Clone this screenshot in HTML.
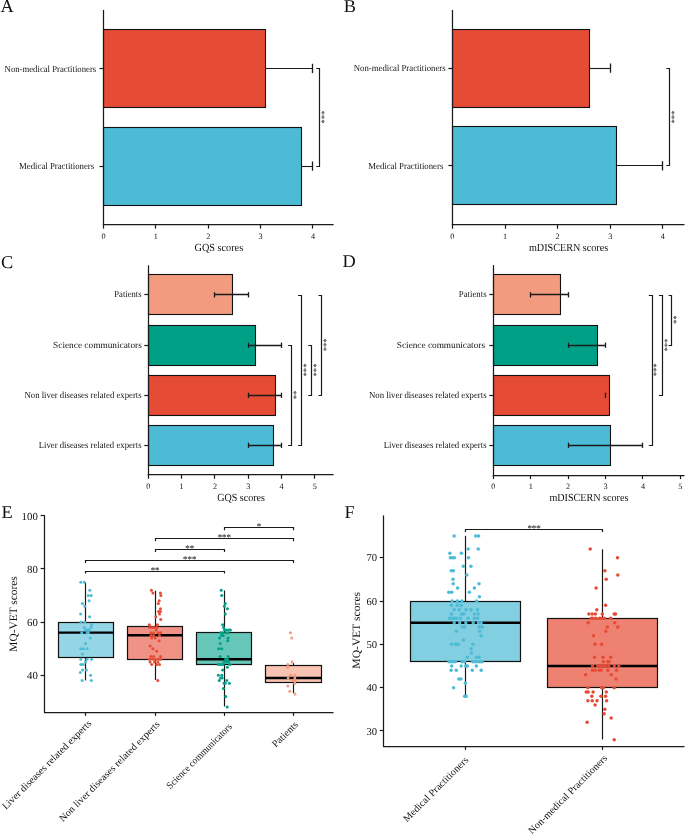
<!DOCTYPE html>
<html><head><meta charset="utf-8"><style>
html,body{margin:0;padding:0;background:#fff;}
text.st{stroke:#333;stroke-width:0.12px;fill:#333;}
svg{display:block;will-change:transform;text-rendering:geometricPrecision;font-family:"Liberation Serif",serif;fill:#111;}
</style></head><body>
<svg width="685" height="834" viewBox="0 0 685 834">
<rect width="685" height="834" fill="#fff"/>
<text font-size="18.0" transform="translate(0.4,11.9) scale(1.02,1)">A</text>
<text font-size="18.0" transform="translate(343.7,12.3) scale(1.02,1)">B</text>
<text font-size="18.0" transform="translate(0.9,267.6) scale(1.02,1)">C</text>
<text font-size="18.0" transform="translate(342.6,267.2) scale(1.02,1)">D</text>
<text font-size="18.0" transform="translate(1.5,518.0) scale(1.02,1)">E</text>
<text font-size="18.0" transform="translate(344.4,518.1) scale(1.02,1)">F</text>
<rect x="103.50" y="29.50" width="162.00" height="78.00" fill="#E64B35" stroke="#111" stroke-width="1.1"/>
<line x1="265.32" y1="68.50" x2="312.98" y2="68.50" stroke="#1a1a1a" stroke-width="1.1"/>
<line x1="312.50" y1="63.75" x2="312.50" y2="73.05" stroke="#1a1a1a" stroke-width="1.3"/>
<rect x="103.50" y="127.50" width="198.00" height="78.00" fill="#4DBBD5" stroke="#111" stroke-width="1.1"/>
<line x1="301.46" y1="166.50" x2="312.98" y2="166.50" stroke="#1a1a1a" stroke-width="1.1"/>
<line x1="312.50" y1="161.45" x2="312.50" y2="170.75" stroke="#1a1a1a" stroke-width="1.3"/>
<line x1="103.50" y1="9.90" x2="103.50" y2="225.20" stroke="#1a1a1a" stroke-width="1.25"/>
<line x1="102.90" y1="224.50" x2="333.60" y2="224.50" stroke="#1a1a1a" stroke-width="1.25"/>
<line x1="103.50" y1="224.60" x2="103.50" y2="228.60" stroke="#1a1a1a" stroke-width="1.2"/>
<text x="103.50" y="238.60" font-size="8.2" text-anchor="middle">0</text>
<line x1="155.50" y1="224.60" x2="155.50" y2="228.60" stroke="#1a1a1a" stroke-width="1.2"/>
<text x="155.87" y="238.60" font-size="8.2" text-anchor="middle">1</text>
<line x1="208.50" y1="224.60" x2="208.50" y2="228.60" stroke="#1a1a1a" stroke-width="1.2"/>
<text x="208.24" y="238.60" font-size="8.2" text-anchor="middle">2</text>
<line x1="260.50" y1="224.60" x2="260.50" y2="228.60" stroke="#1a1a1a" stroke-width="1.2"/>
<text x="260.61" y="238.60" font-size="8.2" text-anchor="middle">3</text>
<line x1="312.50" y1="224.60" x2="312.50" y2="228.60" stroke="#1a1a1a" stroke-width="1.2"/>
<text x="312.98" y="238.60" font-size="8.2" text-anchor="middle">4</text>
<line x1="99.50" y1="68.50" x2="103.50" y2="68.50" stroke="#1a1a1a" stroke-width="1.2"/>
<text x="96.20" y="71.50" font-size="9.3" text-anchor="end" textLength="91.60" lengthAdjust="spacingAndGlyphs">Non-medical Practitioners</text>
<line x1="99.50" y1="166.50" x2="103.50" y2="166.50" stroke="#1a1a1a" stroke-width="1.2"/>
<text x="94.20" y="169.20" font-size="9.3" text-anchor="end" textLength="75.20" lengthAdjust="spacingAndGlyphs">Medical Practitioners</text>
<text x="218.85" y="250.50" font-size="10.9" text-anchor="middle" textLength="48.60" lengthAdjust="spacingAndGlyphs">GQS scores</text>
<path d="M316.20,68.50 H319.50 V166.50 H316.20" stroke="#1a1a1a" stroke-width="1.2" fill="none"/>
<text font-size="8.6" text-anchor="middle" transform="translate(326.80,117.20) rotate(-90)">***</text>
<rect x="452.50" y="29.50" width="137.00" height="78.00" fill="#E64B35" stroke="#111" stroke-width="1.1"/>
<line x1="589.69" y1="68.50" x2="610.20" y2="68.50" stroke="#1a1a1a" stroke-width="1.1"/>
<line x1="610.50" y1="63.45" x2="610.50" y2="72.75" stroke="#1a1a1a" stroke-width="1.3"/>
<rect x="452.50" y="126.50" width="164.00" height="78.00" fill="#4DBBD5" stroke="#111" stroke-width="1.1"/>
<line x1="616.51" y1="165.50" x2="662.80" y2="165.50" stroke="#1a1a1a" stroke-width="1.1"/>
<line x1="662.50" y1="161.15" x2="662.50" y2="170.45" stroke="#1a1a1a" stroke-width="1.3"/>
<line x1="452.50" y1="9.90" x2="452.50" y2="225.40" stroke="#1a1a1a" stroke-width="1.25"/>
<line x1="451.80" y1="224.50" x2="684.50" y2="224.50" stroke="#1a1a1a" stroke-width="1.25"/>
<line x1="452.50" y1="224.80" x2="452.50" y2="228.80" stroke="#1a1a1a" stroke-width="1.2"/>
<text x="452.40" y="238.80" font-size="8.2" text-anchor="middle">0</text>
<line x1="505.50" y1="224.80" x2="505.50" y2="228.80" stroke="#1a1a1a" stroke-width="1.2"/>
<text x="505.00" y="238.80" font-size="8.2" text-anchor="middle">1</text>
<line x1="557.50" y1="224.80" x2="557.50" y2="228.80" stroke="#1a1a1a" stroke-width="1.2"/>
<text x="557.60" y="238.80" font-size="8.2" text-anchor="middle">2</text>
<line x1="610.50" y1="224.80" x2="610.50" y2="228.80" stroke="#1a1a1a" stroke-width="1.2"/>
<text x="610.20" y="238.80" font-size="8.2" text-anchor="middle">3</text>
<line x1="662.50" y1="224.80" x2="662.50" y2="228.80" stroke="#1a1a1a" stroke-width="1.2"/>
<text x="662.80" y="238.80" font-size="8.2" text-anchor="middle">4</text>
<line x1="448.40" y1="68.50" x2="452.40" y2="68.50" stroke="#1a1a1a" stroke-width="1.2"/>
<text x="445.60" y="71.20" font-size="9.3" text-anchor="end" textLength="91.80" lengthAdjust="spacingAndGlyphs">Non-medical Practitioners</text>
<line x1="448.40" y1="165.50" x2="452.40" y2="165.50" stroke="#1a1a1a" stroke-width="1.2"/>
<text x="443.30" y="168.90" font-size="9.3" text-anchor="end" textLength="75.00" lengthAdjust="spacingAndGlyphs">Medical Practitioners</text>
<text x="568.55" y="250.70" font-size="10.9" text-anchor="middle" textLength="79.20" lengthAdjust="spacingAndGlyphs">mDISCERN scores</text>
<path d="M666.30,68.50 H669.50 V165.50 H666.30" stroke="#1a1a1a" stroke-width="1.2" fill="none"/>
<text font-size="8.6" text-anchor="middle" transform="translate(676.90,117.10) rotate(-90)">***</text>
<rect x="148.50" y="274.50" width="84.00" height="40.00" fill="#F39B7F" stroke="#111" stroke-width="1.1"/>
<line x1="214.94" y1="294.50" x2="248.26" y2="294.50" stroke="#1a1a1a" stroke-width="1.4"/>
<line x1="214.50" y1="292.15" x2="214.50" y2="297.45" stroke="#1a1a1a" stroke-width="1.3"/>
<line x1="248.50" y1="292.15" x2="248.50" y2="297.45" stroke="#1a1a1a" stroke-width="1.3"/>
<rect x="148.50" y="325.50" width="107.00" height="40.00" fill="#00A087" stroke="#111" stroke-width="1.1"/>
<line x1="248.26" y1="345.50" x2="281.58" y2="345.50" stroke="#1a1a1a" stroke-width="1.4"/>
<line x1="248.50" y1="342.60" x2="248.50" y2="347.90" stroke="#1a1a1a" stroke-width="1.3"/>
<line x1="281.50" y1="342.60" x2="281.50" y2="347.90" stroke="#1a1a1a" stroke-width="1.3"/>
<rect x="148.50" y="375.50" width="127.00" height="40.00" fill="#E64B35" stroke="#111" stroke-width="1.1"/>
<line x1="248.26" y1="395.50" x2="281.58" y2="395.50" stroke="#1a1a1a" stroke-width="1.4"/>
<line x1="248.50" y1="392.65" x2="248.50" y2="397.95" stroke="#1a1a1a" stroke-width="1.3"/>
<line x1="281.50" y1="392.65" x2="281.50" y2="397.95" stroke="#1a1a1a" stroke-width="1.3"/>
<rect x="148.50" y="425.50" width="125.00" height="40.00" fill="#4DBBD5" stroke="#111" stroke-width="1.1"/>
<line x1="248.26" y1="445.50" x2="281.58" y2="445.50" stroke="#1a1a1a" stroke-width="1.4"/>
<line x1="248.50" y1="442.65" x2="248.50" y2="447.95" stroke="#1a1a1a" stroke-width="1.3"/>
<line x1="281.50" y1="442.65" x2="281.50" y2="447.95" stroke="#1a1a1a" stroke-width="1.3"/>
<line x1="148.50" y1="265.30" x2="148.50" y2="475.40" stroke="#1a1a1a" stroke-width="1.25"/>
<line x1="147.70" y1="474.50" x2="333.60" y2="474.50" stroke="#1a1a1a" stroke-width="1.25"/>
<line x1="148.50" y1="474.80" x2="148.50" y2="478.80" stroke="#1a1a1a" stroke-width="1.2"/>
<text x="148.30" y="488.80" font-size="8.2" text-anchor="middle">0</text>
<line x1="181.50" y1="474.80" x2="181.50" y2="478.80" stroke="#1a1a1a" stroke-width="1.2"/>
<text x="181.62" y="488.80" font-size="8.2" text-anchor="middle">1</text>
<line x1="214.50" y1="474.80" x2="214.50" y2="478.80" stroke="#1a1a1a" stroke-width="1.2"/>
<text x="214.94" y="488.80" font-size="8.2" text-anchor="middle">2</text>
<line x1="248.50" y1="474.80" x2="248.50" y2="478.80" stroke="#1a1a1a" stroke-width="1.2"/>
<text x="248.26" y="488.80" font-size="8.2" text-anchor="middle">3</text>
<line x1="281.50" y1="474.80" x2="281.50" y2="478.80" stroke="#1a1a1a" stroke-width="1.2"/>
<text x="281.58" y="488.80" font-size="8.2" text-anchor="middle">4</text>
<line x1="314.50" y1="474.80" x2="314.50" y2="478.80" stroke="#1a1a1a" stroke-width="1.2"/>
<text x="314.90" y="488.80" font-size="8.2" text-anchor="middle">5</text>
<line x1="144.30" y1="294.50" x2="148.30" y2="294.50" stroke="#1a1a1a" stroke-width="1.2"/>
<text x="141.60" y="297.20" font-size="9.3" text-anchor="end" textLength="27.30" lengthAdjust="spacingAndGlyphs">Patients</text>
<line x1="144.30" y1="345.50" x2="148.30" y2="345.50" stroke="#1a1a1a" stroke-width="1.2"/>
<text x="141.80" y="347.65" font-size="9.3" text-anchor="end" textLength="88.70" lengthAdjust="spacingAndGlyphs">Science communicators</text>
<line x1="144.30" y1="395.50" x2="148.30" y2="395.50" stroke="#1a1a1a" stroke-width="1.2"/>
<text x="141.60" y="397.70" font-size="9.3" text-anchor="end" textLength="117.10" lengthAdjust="spacingAndGlyphs">Non liver diseases related experts</text>
<line x1="144.30" y1="445.50" x2="148.30" y2="445.50" stroke="#1a1a1a" stroke-width="1.2"/>
<text x="141.60" y="447.70" font-size="9.3" text-anchor="end" textLength="102.90" lengthAdjust="spacingAndGlyphs">Liver diseases related experts</text>
<text x="241.05" y="500.70" font-size="10.9" text-anchor="middle" textLength="47.80" lengthAdjust="spacingAndGlyphs">GQS scores</text>
<path d="M288.10,345.50 H291.50 V445.50 H288.10" stroke="#1a1a1a" stroke-width="1.2" fill="none"/>
<text font-size="8.6" text-anchor="middle" transform="translate(298.70,395.00) rotate(-90)">**</text>
<path d="M298.10,295.50 H301.50 V445.50 H298.10" stroke="#1a1a1a" stroke-width="1.2" fill="none"/>
<text font-size="8.6" text-anchor="middle" transform="translate(308.70,370.00) rotate(-90)">***</text>
<path d="M308.20,345.50 H311.50 V395.50 H308.20" stroke="#1a1a1a" stroke-width="1.2" fill="none"/>
<text font-size="8.6" text-anchor="middle" transform="translate(318.80,370.00) rotate(-90)">***</text>
<path d="M318.50,295.50 H321.50 V395.50 H318.50" stroke="#1a1a1a" stroke-width="1.2" fill="none"/>
<text font-size="8.6" text-anchor="middle" transform="translate(329.10,344.80) rotate(-90)">***</text>
<rect x="493.50" y="274.50" width="67.00" height="40.00" fill="#F39B7F" stroke="#111" stroke-width="1.1"/>
<line x1="530.72" y1="294.50" x2="568.14" y2="294.50" stroke="#1a1a1a" stroke-width="1.3"/>
<line x1="530.50" y1="292.15" x2="530.50" y2="297.45" stroke="#1a1a1a" stroke-width="1.3"/>
<line x1="568.50" y1="292.15" x2="568.50" y2="297.45" stroke="#1a1a1a" stroke-width="1.3"/>
<rect x="493.50" y="325.50" width="104.00" height="40.00" fill="#00A087" stroke="#111" stroke-width="1.1"/>
<line x1="568.14" y1="345.50" x2="605.56" y2="345.50" stroke="#1a1a1a" stroke-width="1.3"/>
<line x1="568.50" y1="342.60" x2="568.50" y2="347.90" stroke="#1a1a1a" stroke-width="1.3"/>
<line x1="605.50" y1="342.60" x2="605.50" y2="347.90" stroke="#1a1a1a" stroke-width="1.3"/>
<rect x="493.50" y="375.50" width="116.00" height="40.00" fill="#E64B35" stroke="#111" stroke-width="1.1"/>
<line x1="605.50" y1="395.50" x2="605.50" y2="395.50" stroke="#1a1a1a" stroke-width="1.3"/>
<line x1="605.50" y1="392.65" x2="605.50" y2="397.95" stroke="#1a1a1a" stroke-width="1.3"/>
<rect x="493.50" y="425.50" width="117.00" height="40.00" fill="#4DBBD5" stroke="#111" stroke-width="1.1"/>
<line x1="568.14" y1="445.50" x2="642.98" y2="445.50" stroke="#1a1a1a" stroke-width="1.3"/>
<line x1="568.50" y1="442.65" x2="568.50" y2="447.95" stroke="#1a1a1a" stroke-width="1.3"/>
<line x1="642.50" y1="442.65" x2="642.50" y2="447.95" stroke="#1a1a1a" stroke-width="1.3"/>
<line x1="493.50" y1="265.10" x2="493.50" y2="475.70" stroke="#1a1a1a" stroke-width="1.25"/>
<line x1="492.70" y1="475.50" x2="684.50" y2="475.50" stroke="#1a1a1a" stroke-width="1.25"/>
<line x1="493.50" y1="475.10" x2="493.50" y2="479.10" stroke="#1a1a1a" stroke-width="1.2"/>
<text x="493.30" y="489.10" font-size="8.2" text-anchor="middle">0</text>
<line x1="530.50" y1="475.10" x2="530.50" y2="479.10" stroke="#1a1a1a" stroke-width="1.2"/>
<text x="530.72" y="489.10" font-size="8.2" text-anchor="middle">1</text>
<line x1="568.50" y1="475.10" x2="568.50" y2="479.10" stroke="#1a1a1a" stroke-width="1.2"/>
<text x="568.14" y="489.10" font-size="8.2" text-anchor="middle">2</text>
<line x1="605.50" y1="475.10" x2="605.50" y2="479.10" stroke="#1a1a1a" stroke-width="1.2"/>
<text x="605.56" y="489.10" font-size="8.2" text-anchor="middle">3</text>
<line x1="642.50" y1="475.10" x2="642.50" y2="479.10" stroke="#1a1a1a" stroke-width="1.2"/>
<text x="642.98" y="489.10" font-size="8.2" text-anchor="middle">4</text>
<line x1="680.50" y1="475.10" x2="680.50" y2="479.10" stroke="#1a1a1a" stroke-width="1.2"/>
<text x="680.40" y="489.10" font-size="8.2" text-anchor="middle">5</text>
<line x1="489.30" y1="294.50" x2="493.30" y2="294.50" stroke="#1a1a1a" stroke-width="1.2"/>
<text x="486.60" y="297.20" font-size="9.3" text-anchor="end" textLength="27.80" lengthAdjust="spacingAndGlyphs">Patients</text>
<line x1="489.30" y1="345.50" x2="493.30" y2="345.50" stroke="#1a1a1a" stroke-width="1.2"/>
<text x="485.00" y="347.65" font-size="9.3" text-anchor="end" textLength="88.20" lengthAdjust="spacingAndGlyphs">Science communicators</text>
<line x1="489.30" y1="395.50" x2="493.30" y2="395.50" stroke="#1a1a1a" stroke-width="1.2"/>
<text x="486.60" y="397.70" font-size="9.3" text-anchor="end" textLength="117.60" lengthAdjust="spacingAndGlyphs">Non liver diseases related experts</text>
<line x1="489.30" y1="445.50" x2="493.30" y2="445.50" stroke="#1a1a1a" stroke-width="1.2"/>
<text x="486.60" y="447.70" font-size="9.3" text-anchor="end" textLength="102.90" lengthAdjust="spacingAndGlyphs">Liver diseases related experts</text>
<text x="588.90" y="501.00" font-size="10.9" text-anchor="middle" textLength="79.00" lengthAdjust="spacingAndGlyphs">mDISCERN scores</text>
<path d="M648.80,295.50 H652.50 V445.50 H648.80" stroke="#1a1a1a" stroke-width="1.2" fill="none"/>
<text font-size="8.6" text-anchor="middle" transform="translate(659.40,369.80) rotate(-90)">***</text>
<path d="M658.90,295.50 H662.50 V395.50 H658.90" stroke="#1a1a1a" stroke-width="1.2" fill="none"/>
<text font-size="8.6" text-anchor="middle" transform="translate(669.50,345.10) rotate(-90)">***</text>
<path d="M668.60,295.50 H671.50 V345.50 H668.60" stroke="#1a1a1a" stroke-width="1.2" fill="none"/>
<text font-size="8.6" text-anchor="middle" transform="translate(679.20,319.80) rotate(-90)">**</text>
<line x1="44.50" y1="515.30" x2="44.50" y2="712.90" stroke="#1a1a1a" stroke-width="1.25"/>
<line x1="44.00" y1="712.50" x2="333.50" y2="712.50" stroke="#1a1a1a" stroke-width="1.25"/>
<line x1="40.60" y1="515.50" x2="44.60" y2="515.50" stroke="#1a1a1a" stroke-width="1.2"/>
<text x="37.80" y="519.60" font-size="10.8" text-anchor="end">100</text>
<line x1="40.60" y1="568.50" x2="44.60" y2="568.50" stroke="#1a1a1a" stroke-width="1.2"/>
<text x="37.80" y="572.75" font-size="10.8" text-anchor="end">80</text>
<line x1="40.60" y1="622.50" x2="44.60" y2="622.50" stroke="#1a1a1a" stroke-width="1.2"/>
<text x="37.80" y="625.90" font-size="10.8" text-anchor="end">60</text>
<line x1="40.60" y1="675.50" x2="44.60" y2="675.50" stroke="#1a1a1a" stroke-width="1.2"/>
<text x="37.80" y="679.05" font-size="10.8" text-anchor="end">40</text>
<line x1="85.50" y1="582.30" x2="85.50" y2="680.40" stroke="#1a1a1a" stroke-width="1.2"/>
<rect x="58.50" y="622.50" width="55.00" height="35.00" fill="#94D6E6" stroke="#111" stroke-width="1.2"/>
<line x1="58.30" y1="632.60" x2="113.50" y2="632.60" stroke="#000" stroke-width="2.4"/>
<line x1="85.50" y1="712.30" x2="85.50" y2="715.90" stroke="#1a1a1a" stroke-width="1.2"/>
<line x1="155.50" y1="590.70" x2="155.50" y2="680.00" stroke="#1a1a1a" stroke-width="1.2"/>
<rect x="127.50" y="626.50" width="55.00" height="33.00" fill="#F09386" stroke="#111" stroke-width="1.2"/>
<line x1="127.50" y1="635.20" x2="182.70" y2="635.20" stroke="#000" stroke-width="2.4"/>
<line x1="155.50" y1="712.30" x2="155.50" y2="715.90" stroke="#1a1a1a" stroke-width="1.2"/>
<line x1="224.50" y1="590.50" x2="224.50" y2="706.50" stroke="#1a1a1a" stroke-width="1.2"/>
<rect x="196.50" y="632.50" width="55.00" height="32.00" fill="#66C6B7" stroke="#111" stroke-width="1.2"/>
<line x1="196.70" y1="659.30" x2="251.90" y2="659.30" stroke="#000" stroke-width="2.4"/>
<line x1="224.50" y1="712.30" x2="224.50" y2="715.90" stroke="#1a1a1a" stroke-width="1.2"/>
<line x1="293.50" y1="663.20" x2="293.50" y2="693.00" stroke="#1a1a1a" stroke-width="1.2"/>
<rect x="265.50" y="665.50" width="56.00" height="17.00" fill="#F8C3B2" stroke="#111" stroke-width="1.2"/>
<line x1="265.90" y1="678.00" x2="321.10" y2="678.00" stroke="#000" stroke-width="2.4"/>
<line x1="293.50" y1="712.30" x2="293.50" y2="715.90" stroke="#1a1a1a" stroke-width="1.2"/>
<circle cx="80.8" cy="582.2" r="1.5" fill="#4DBBD5"/>
<circle cx="84.3" cy="582.2" r="1.5" fill="#4DBBD5"/>
<circle cx="89.8" cy="590.2" r="1.5" fill="#4DBBD5"/>
<circle cx="88.3" cy="595.5" r="1.5" fill="#4DBBD5"/>
<circle cx="91.2" cy="595.5" r="1.5" fill="#4DBBD5"/>
<circle cx="89.1" cy="600.8" r="1.5" fill="#4DBBD5"/>
<circle cx="82.4" cy="603.5" r="1.5" fill="#4DBBD5"/>
<circle cx="84.7" cy="606.2" r="1.5" fill="#4DBBD5"/>
<circle cx="80.6" cy="614.1" r="1.5" fill="#4DBBD5"/>
<circle cx="89.6" cy="616.8" r="1.5" fill="#4DBBD5"/>
<circle cx="80.8" cy="622.1" r="1.5" fill="#4DBBD5"/>
<circle cx="84.7" cy="622.1" r="1.5" fill="#4DBBD5"/>
<circle cx="91.6" cy="624.8" r="1.5" fill="#4DBBD5"/>
<circle cx="84.4" cy="627.4" r="1.5" fill="#4DBBD5"/>
<circle cx="91.1" cy="627.4" r="1.5" fill="#4DBBD5"/>
<circle cx="85.7" cy="630.1" r="1.5" fill="#4DBBD5"/>
<circle cx="88.0" cy="630.1" r="1.5" fill="#4DBBD5"/>
<circle cx="89.3" cy="630.1" r="1.5" fill="#4DBBD5"/>
<circle cx="87.1" cy="632.7" r="1.5" fill="#4DBBD5"/>
<circle cx="88.4" cy="632.7" r="1.5" fill="#4DBBD5"/>
<circle cx="81.7" cy="632.7" r="1.5" fill="#4DBBD5"/>
<circle cx="90.2" cy="638.0" r="1.5" fill="#4DBBD5"/>
<circle cx="85.5" cy="643.4" r="1.5" fill="#4DBBD5"/>
<circle cx="80.8" cy="648.7" r="1.5" fill="#4DBBD5"/>
<circle cx="83.5" cy="648.7" r="1.5" fill="#4DBBD5"/>
<circle cx="87.1" cy="648.7" r="1.5" fill="#4DBBD5"/>
<circle cx="82.4" cy="654.0" r="1.5" fill="#4DBBD5"/>
<circle cx="80.8" cy="659.3" r="1.5" fill="#4DBBD5"/>
<circle cx="87.1" cy="659.3" r="1.5" fill="#4DBBD5"/>
<circle cx="91.6" cy="659.3" r="1.5" fill="#4DBBD5"/>
<circle cx="85.5" cy="662.0" r="1.5" fill="#4DBBD5"/>
<circle cx="80.8" cy="664.6" r="1.5" fill="#4DBBD5"/>
<circle cx="83.0" cy="664.6" r="1.5" fill="#4DBBD5"/>
<circle cx="82.6" cy="669.9" r="1.5" fill="#4DBBD5"/>
<circle cx="86.4" cy="669.9" r="1.5" fill="#4DBBD5"/>
<circle cx="80.3" cy="672.6" r="1.5" fill="#4DBBD5"/>
<circle cx="90.5" cy="675.2" r="1.5" fill="#4DBBD5"/>
<circle cx="82.1" cy="680.6" r="1.5" fill="#4DBBD5"/>
<circle cx="91.3" cy="680.6" r="1.5" fill="#4DBBD5"/>
<circle cx="151.4" cy="590.2" r="1.5" fill="#E64B35"/>
<circle cx="152.9" cy="592.9" r="1.5" fill="#E64B35"/>
<circle cx="160.4" cy="592.9" r="1.5" fill="#E64B35"/>
<circle cx="160.9" cy="595.5" r="1.5" fill="#E64B35"/>
<circle cx="159.2" cy="600.8" r="1.5" fill="#E64B35"/>
<circle cx="158.3" cy="603.5" r="1.5" fill="#E64B35"/>
<circle cx="160.4" cy="608.8" r="1.5" fill="#E64B35"/>
<circle cx="158.6" cy="611.5" r="1.5" fill="#E64B35"/>
<circle cx="160.4" cy="611.5" r="1.5" fill="#E64B35"/>
<circle cx="159.5" cy="614.1" r="1.5" fill="#E64B35"/>
<circle cx="155.9" cy="616.8" r="1.5" fill="#E64B35"/>
<circle cx="160.7" cy="619.4" r="1.5" fill="#E64B35"/>
<circle cx="149.3" cy="624.8" r="1.5" fill="#E64B35"/>
<circle cx="157.4" cy="624.8" r="1.5" fill="#E64B35"/>
<circle cx="149.6" cy="627.4" r="1.5" fill="#E64B35"/>
<circle cx="152.0" cy="627.4" r="1.5" fill="#E64B35"/>
<circle cx="154.4" cy="627.4" r="1.5" fill="#E64B35"/>
<circle cx="156.8" cy="627.4" r="1.5" fill="#E64B35"/>
<circle cx="156.2" cy="630.1" r="1.5" fill="#E64B35"/>
<circle cx="150.9" cy="632.7" r="1.5" fill="#E64B35"/>
<circle cx="153.5" cy="632.7" r="1.5" fill="#E64B35"/>
<circle cx="158.0" cy="632.7" r="1.5" fill="#E64B35"/>
<circle cx="160.6" cy="632.7" r="1.5" fill="#E64B35"/>
<circle cx="150.9" cy="635.4" r="1.5" fill="#E64B35"/>
<circle cx="153.6" cy="635.4" r="1.5" fill="#E64B35"/>
<circle cx="159.5" cy="635.4" r="1.5" fill="#E64B35"/>
<circle cx="151.7" cy="638.0" r="1.5" fill="#E64B35"/>
<circle cx="155.2" cy="638.0" r="1.5" fill="#E64B35"/>
<circle cx="159.1" cy="640.7" r="1.5" fill="#E64B35"/>
<circle cx="150.1" cy="646.0" r="1.5" fill="#E64B35"/>
<circle cx="152.9" cy="648.7" r="1.5" fill="#E64B35"/>
<circle cx="156.7" cy="651.3" r="1.5" fill="#E64B35"/>
<circle cx="150.9" cy="656.6" r="1.5" fill="#E64B35"/>
<circle cx="153.6" cy="656.6" r="1.5" fill="#E64B35"/>
<circle cx="160.6" cy="656.6" r="1.5" fill="#E64B35"/>
<circle cx="149.3" cy="659.3" r="1.5" fill="#E64B35"/>
<circle cx="152.5" cy="659.3" r="1.5" fill="#E64B35"/>
<circle cx="155.6" cy="659.3" r="1.5" fill="#E64B35"/>
<circle cx="158.7" cy="659.3" r="1.5" fill="#E64B35"/>
<circle cx="160.6" cy="659.3" r="1.5" fill="#E64B35"/>
<circle cx="150.1" cy="662.0" r="1.5" fill="#E64B35"/>
<circle cx="154.4" cy="662.0" r="1.5" fill="#E64B35"/>
<circle cx="157.9" cy="662.0" r="1.5" fill="#E64B35"/>
<circle cx="151.7" cy="664.6" r="1.5" fill="#E64B35"/>
<circle cx="156.7" cy="664.6" r="1.5" fill="#E64B35"/>
<circle cx="159.5" cy="664.6" r="1.5" fill="#E64B35"/>
<circle cx="157.8" cy="680.6" r="1.5" fill="#E64B35"/>
<circle cx="221.3" cy="590.2" r="1.5" fill="#00A087"/>
<circle cx="221.7" cy="595.5" r="1.5" fill="#00A087"/>
<circle cx="225.3" cy="603.5" r="1.5" fill="#00A087"/>
<circle cx="224.4" cy="606.2" r="1.5" fill="#00A087"/>
<circle cx="227.4" cy="608.8" r="1.5" fill="#00A087"/>
<circle cx="225.3" cy="614.1" r="1.5" fill="#00A087"/>
<circle cx="222.7" cy="624.8" r="1.5" fill="#00A087"/>
<circle cx="223.5" cy="627.4" r="1.5" fill="#00A087"/>
<circle cx="224.5" cy="630.1" r="1.5" fill="#00A087"/>
<circle cx="226.7" cy="630.1" r="1.5" fill="#00A087"/>
<circle cx="229.2" cy="630.1" r="1.5" fill="#00A087"/>
<circle cx="230.4" cy="630.1" r="1.5" fill="#00A087"/>
<circle cx="220.6" cy="632.7" r="1.5" fill="#00A087"/>
<circle cx="222.4" cy="632.7" r="1.5" fill="#00A087"/>
<circle cx="226.0" cy="632.7" r="1.5" fill="#00A087"/>
<circle cx="228.1" cy="632.7" r="1.5" fill="#00A087"/>
<circle cx="221.5" cy="635.4" r="1.5" fill="#00A087"/>
<circle cx="223.2" cy="635.4" r="1.5" fill="#00A087"/>
<circle cx="219.5" cy="638.0" r="1.5" fill="#00A087"/>
<circle cx="228.1" cy="638.0" r="1.5" fill="#00A087"/>
<circle cx="227.8" cy="640.7" r="1.5" fill="#00A087"/>
<circle cx="220.2" cy="643.4" r="1.5" fill="#00A087"/>
<circle cx="218.8" cy="648.7" r="1.5" fill="#00A087"/>
<circle cx="221.8" cy="648.7" r="1.5" fill="#00A087"/>
<circle cx="220.1" cy="656.6" r="1.5" fill="#00A087"/>
<circle cx="228.3" cy="656.6" r="1.5" fill="#00A087"/>
<circle cx="225.7" cy="659.3" r="1.5" fill="#00A087"/>
<circle cx="227.4" cy="659.3" r="1.5" fill="#00A087"/>
<circle cx="224.0" cy="662.0" r="1.5" fill="#00A087"/>
<circle cx="226.1" cy="662.0" r="1.5" fill="#00A087"/>
<circle cx="228.7" cy="662.0" r="1.5" fill="#00A087"/>
<circle cx="218.4" cy="664.6" r="1.5" fill="#00A087"/>
<circle cx="220.9" cy="664.6" r="1.5" fill="#00A087"/>
<circle cx="223.1" cy="664.6" r="1.5" fill="#00A087"/>
<circle cx="230.0" cy="664.6" r="1.5" fill="#00A087"/>
<circle cx="227.4" cy="667.3" r="1.5" fill="#00A087"/>
<circle cx="222.7" cy="669.9" r="1.5" fill="#00A087"/>
<circle cx="218.4" cy="675.2" r="1.5" fill="#00A087"/>
<circle cx="221.8" cy="675.2" r="1.5" fill="#00A087"/>
<circle cx="220.5" cy="677.9" r="1.5" fill="#00A087"/>
<circle cx="222.2" cy="677.9" r="1.5" fill="#00A087"/>
<circle cx="219.2" cy="680.6" r="1.5" fill="#00A087"/>
<circle cx="226.8" cy="680.6" r="1.5" fill="#00A087"/>
<circle cx="224.0" cy="683.2" r="1.5" fill="#00A087"/>
<circle cx="225.3" cy="683.2" r="1.5" fill="#00A087"/>
<circle cx="229.4" cy="683.2" r="1.5" fill="#00A087"/>
<circle cx="223.4" cy="688.5" r="1.5" fill="#00A087"/>
<circle cx="225.7" cy="696.5" r="1.5" fill="#00A087"/>
<circle cx="227.2" cy="707.1" r="1.5" fill="#00A087"/>
<circle cx="290.4" cy="632.7" r="1.5" fill="#F39B7F"/>
<circle cx="291.7" cy="638.0" r="1.5" fill="#F39B7F"/>
<circle cx="292.1" cy="662.0" r="1.5" fill="#F39B7F"/>
<circle cx="287.9" cy="664.6" r="1.5" fill="#F39B7F"/>
<circle cx="287.7" cy="667.3" r="1.5" fill="#F39B7F"/>
<circle cx="290.6" cy="675.2" r="1.5" fill="#F39B7F"/>
<circle cx="294.8" cy="675.2" r="1.5" fill="#F39B7F"/>
<circle cx="288.1" cy="677.9" r="1.5" fill="#F39B7F"/>
<circle cx="294.8" cy="677.9" r="1.5" fill="#F39B7F"/>
<circle cx="292.3" cy="680.6" r="1.5" fill="#F39B7F"/>
<circle cx="295.2" cy="680.6" r="1.5" fill="#F39B7F"/>
<circle cx="294.8" cy="683.2" r="1.5" fill="#F39B7F"/>
<circle cx="287.9" cy="685.9" r="1.5" fill="#F39B7F"/>
<circle cx="289.8" cy="691.2" r="1.5" fill="#F39B7F"/>
<circle cx="295.0" cy="693.9" r="1.5" fill="#F39B7F"/>
<path d="M224.50,530.20 V527.50 H293.50 V530.20" stroke="#1a1a1a" stroke-width="1.2" fill="none"/>
<text x="258.90" y="529.40" font-size="8.8" text-anchor="middle" class="st">*</text>
<path d="M155.50,541.20 V538.50 H293.50 V541.20" stroke="#1a1a1a" stroke-width="1.2" fill="none"/>
<text x="224.30" y="540.40" font-size="8.8" text-anchor="middle" class="st">***</text>
<path d="M155.50,552.00 V549.50 H224.50 V552.00" stroke="#1a1a1a" stroke-width="1.2" fill="none"/>
<text x="189.70" y="551.20" font-size="8.8" text-anchor="middle" class="st">**</text>
<path d="M85.50,563.00 V560.50 H293.50 V563.00" stroke="#1a1a1a" stroke-width="1.2" fill="none"/>
<text x="189.70" y="562.10" font-size="8.8" text-anchor="middle" class="st">***</text>
<path d="M85.50,573.60 V571.50 H224.50 V573.60" stroke="#1a1a1a" stroke-width="1.2" fill="none"/>
<text x="155.10" y="572.70" font-size="8.8" text-anchor="middle" class="st">**</text>
<text font-size="10" text-anchor="end" textLength="121.80" lengthAdjust="spacingAndGlyphs" transform="translate(92.00,724.00) rotate(-45)">Liver diseases related experts</text>
<text font-size="10" text-anchor="end" textLength="137.80" lengthAdjust="spacingAndGlyphs" transform="translate(160.40,724.70) rotate(-45)">Non liver diseases related experts</text>
<text font-size="10" text-anchor="end" textLength="88.00" lengthAdjust="spacingAndGlyphs" transform="translate(232.50,727.20) rotate(-45)">Science communicators</text>
<text font-size="10" text-anchor="end" textLength="32.00" lengthAdjust="spacingAndGlyphs" transform="translate(298.50,725.20) rotate(-45)">Patients</text>
<text font-size="11.2" text-anchor="middle" textLength="75.30" lengthAdjust="spacingAndGlyphs" transform="translate(16.80,614.00) rotate(-90)">MQ-VET scores</text>
<line x1="383.50" y1="515.40" x2="383.50" y2="746.90" stroke="#1a1a1a" stroke-width="1.25"/>
<line x1="383.20" y1="746.50" x2="684.50" y2="746.50" stroke="#1a1a1a" stroke-width="1.25"/>
<line x1="379.80" y1="557.50" x2="383.80" y2="557.50" stroke="#1a1a1a" stroke-width="1.2"/>
<text x="377.00" y="561.47" font-size="10.6" text-anchor="end">70</text>
<line x1="379.80" y1="601.50" x2="383.80" y2="601.50" stroke="#1a1a1a" stroke-width="1.2"/>
<text x="377.00" y="604.80" font-size="10.6" text-anchor="end">60</text>
<line x1="379.80" y1="644.50" x2="383.80" y2="644.50" stroke="#1a1a1a" stroke-width="1.2"/>
<text x="377.00" y="648.13" font-size="10.6" text-anchor="end">50</text>
<line x1="379.80" y1="687.50" x2="383.80" y2="687.50" stroke="#1a1a1a" stroke-width="1.2"/>
<text x="377.00" y="691.46" font-size="10.6" text-anchor="end">40</text>
<line x1="379.80" y1="730.50" x2="383.80" y2="730.50" stroke="#1a1a1a" stroke-width="1.2"/>
<text x="377.00" y="734.79" font-size="10.6" text-anchor="end">30</text>
<line x1="465.50" y1="535.80" x2="465.50" y2="696.40" stroke="#1a1a1a" stroke-width="1.2"/>
<rect x="410.50" y="601.50" width="110.00" height="60.00" fill="#82CFE2" stroke="#111" stroke-width="1.2"/>
<line x1="410.65" y1="622.80" x2="520.35" y2="622.80" stroke="#000" stroke-width="2.4"/>
<line x1="465.50" y1="746.30" x2="465.50" y2="749.90" stroke="#1a1a1a" stroke-width="1.2"/>
<line x1="602.50" y1="549.30" x2="602.50" y2="739.50" stroke="#1a1a1a" stroke-width="1.2"/>
<rect x="547.50" y="618.50" width="110.00" height="69.00" fill="#EE8172" stroke="#111" stroke-width="1.2"/>
<line x1="547.55" y1="666.00" x2="657.25" y2="666.00" stroke="#000" stroke-width="2.4"/>
<line x1="602.50" y1="746.30" x2="602.50" y2="749.90" stroke="#1a1a1a" stroke-width="1.2"/>
<circle cx="454.1" cy="536.0" r="1.75" fill="#4DBBD5"/>
<circle cx="475.7" cy="536.0" r="1.75" fill="#4DBBD5"/>
<circle cx="478.6" cy="536.0" r="1.75" fill="#4DBBD5"/>
<circle cx="468.1" cy="549.0" r="1.75" fill="#4DBBD5"/>
<circle cx="478.2" cy="549.0" r="1.75" fill="#4DBBD5"/>
<circle cx="449.9" cy="553.3" r="1.75" fill="#4DBBD5"/>
<circle cx="461.4" cy="553.3" r="1.75" fill="#4DBBD5"/>
<circle cx="450.4" cy="557.7" r="1.75" fill="#4DBBD5"/>
<circle cx="452.4" cy="557.7" r="1.75" fill="#4DBBD5"/>
<circle cx="454.4" cy="557.7" r="1.75" fill="#4DBBD5"/>
<circle cx="468.5" cy="557.7" r="1.75" fill="#4DBBD5"/>
<circle cx="463.3" cy="566.3" r="1.75" fill="#4DBBD5"/>
<circle cx="470.9" cy="566.3" r="1.75" fill="#4DBBD5"/>
<circle cx="451.3" cy="570.7" r="1.75" fill="#4DBBD5"/>
<circle cx="453.4" cy="570.7" r="1.75" fill="#4DBBD5"/>
<circle cx="466.8" cy="575.0" r="1.75" fill="#4DBBD5"/>
<circle cx="453.0" cy="579.3" r="1.75" fill="#4DBBD5"/>
<circle cx="453.2" cy="583.7" r="1.75" fill="#4DBBD5"/>
<circle cx="479.0" cy="583.7" r="1.75" fill="#4DBBD5"/>
<circle cx="457.6" cy="588.0" r="1.75" fill="#4DBBD5"/>
<circle cx="474.4" cy="588.0" r="1.75" fill="#4DBBD5"/>
<circle cx="448.8" cy="592.3" r="1.75" fill="#4DBBD5"/>
<circle cx="451.7" cy="592.3" r="1.75" fill="#4DBBD5"/>
<circle cx="469.4" cy="592.3" r="1.75" fill="#4DBBD5"/>
<circle cx="479.4" cy="596.7" r="1.75" fill="#4DBBD5"/>
<circle cx="452.1" cy="601.0" r="1.75" fill="#4DBBD5"/>
<circle cx="457.3" cy="601.0" r="1.75" fill="#4DBBD5"/>
<circle cx="461.9" cy="601.0" r="1.75" fill="#4DBBD5"/>
<circle cx="476.6" cy="601.0" r="1.75" fill="#4DBBD5"/>
<circle cx="451.4" cy="605.3" r="1.75" fill="#4DBBD5"/>
<circle cx="457.3" cy="605.3" r="1.75" fill="#4DBBD5"/>
<circle cx="461.2" cy="605.3" r="1.75" fill="#4DBBD5"/>
<circle cx="454.2" cy="609.7" r="1.75" fill="#4DBBD5"/>
<circle cx="459.2" cy="609.7" r="1.75" fill="#4DBBD5"/>
<circle cx="466.0" cy="609.7" r="1.75" fill="#4DBBD5"/>
<circle cx="471.0" cy="609.7" r="1.75" fill="#4DBBD5"/>
<circle cx="477.5" cy="609.7" r="1.75" fill="#4DBBD5"/>
<circle cx="451.4" cy="614.0" r="1.75" fill="#4DBBD5"/>
<circle cx="461.6" cy="614.0" r="1.75" fill="#4DBBD5"/>
<circle cx="463.7" cy="614.0" r="1.75" fill="#4DBBD5"/>
<circle cx="474.4" cy="614.0" r="1.75" fill="#4DBBD5"/>
<circle cx="478.1" cy="614.0" r="1.75" fill="#4DBBD5"/>
<circle cx="449.6" cy="618.3" r="1.75" fill="#4DBBD5"/>
<circle cx="451.7" cy="618.3" r="1.75" fill="#4DBBD5"/>
<circle cx="454.2" cy="618.3" r="1.75" fill="#4DBBD5"/>
<circle cx="456.3" cy="618.3" r="1.75" fill="#4DBBD5"/>
<circle cx="460.3" cy="618.3" r="1.75" fill="#4DBBD5"/>
<circle cx="468.0" cy="618.3" r="1.75" fill="#4DBBD5"/>
<circle cx="474.4" cy="618.3" r="1.75" fill="#4DBBD5"/>
<circle cx="477.5" cy="618.3" r="1.75" fill="#4DBBD5"/>
<circle cx="454.2" cy="622.7" r="1.75" fill="#4DBBD5"/>
<circle cx="459.7" cy="622.7" r="1.75" fill="#4DBBD5"/>
<circle cx="465.8" cy="622.7" r="1.75" fill="#4DBBD5"/>
<circle cx="473.2" cy="622.7" r="1.75" fill="#4DBBD5"/>
<circle cx="478.4" cy="622.7" r="1.75" fill="#4DBBD5"/>
<circle cx="481.2" cy="622.7" r="1.75" fill="#4DBBD5"/>
<circle cx="462.2" cy="627.0" r="1.75" fill="#4DBBD5"/>
<circle cx="464.6" cy="627.0" r="1.75" fill="#4DBBD5"/>
<circle cx="479.3" cy="627.0" r="1.75" fill="#4DBBD5"/>
<circle cx="482.4" cy="627.0" r="1.75" fill="#4DBBD5"/>
<circle cx="456.3" cy="631.3" r="1.75" fill="#4DBBD5"/>
<circle cx="479.6" cy="631.3" r="1.75" fill="#4DBBD5"/>
<circle cx="481.1" cy="635.7" r="1.75" fill="#4DBBD5"/>
<circle cx="463.4" cy="640.0" r="1.75" fill="#4DBBD5"/>
<circle cx="451.7" cy="644.3" r="1.75" fill="#4DBBD5"/>
<circle cx="455.7" cy="644.3" r="1.75" fill="#4DBBD5"/>
<circle cx="458.2" cy="644.3" r="1.75" fill="#4DBBD5"/>
<circle cx="472.9" cy="644.3" r="1.75" fill="#4DBBD5"/>
<circle cx="471.1" cy="648.7" r="1.75" fill="#4DBBD5"/>
<circle cx="471.4" cy="653.0" r="1.75" fill="#4DBBD5"/>
<circle cx="467.4" cy="657.3" r="1.75" fill="#4DBBD5"/>
<circle cx="476.6" cy="657.3" r="1.75" fill="#4DBBD5"/>
<circle cx="479.0" cy="657.3" r="1.75" fill="#4DBBD5"/>
<circle cx="449.0" cy="661.7" r="1.75" fill="#4DBBD5"/>
<circle cx="451.1" cy="661.7" r="1.75" fill="#4DBBD5"/>
<circle cx="453.3" cy="661.7" r="1.75" fill="#4DBBD5"/>
<circle cx="455.4" cy="661.7" r="1.75" fill="#4DBBD5"/>
<circle cx="462.2" cy="661.7" r="1.75" fill="#4DBBD5"/>
<circle cx="464.6" cy="661.7" r="1.75" fill="#4DBBD5"/>
<circle cx="472.6" cy="661.7" r="1.75" fill="#4DBBD5"/>
<circle cx="475.0" cy="661.7" r="1.75" fill="#4DBBD5"/>
<circle cx="477.5" cy="661.7" r="1.75" fill="#4DBBD5"/>
<circle cx="479.9" cy="661.7" r="1.75" fill="#4DBBD5"/>
<circle cx="482.1" cy="661.7" r="1.75" fill="#4DBBD5"/>
<circle cx="451.7" cy="666.0" r="1.75" fill="#4DBBD5"/>
<circle cx="461.2" cy="666.0" r="1.75" fill="#4DBBD5"/>
<circle cx="465.8" cy="666.0" r="1.75" fill="#4DBBD5"/>
<circle cx="467.4" cy="666.0" r="1.75" fill="#4DBBD5"/>
<circle cx="476.3" cy="666.0" r="1.75" fill="#4DBBD5"/>
<circle cx="451.1" cy="670.3" r="1.75" fill="#4DBBD5"/>
<circle cx="456.3" cy="670.3" r="1.75" fill="#4DBBD5"/>
<circle cx="472.3" cy="670.3" r="1.75" fill="#4DBBD5"/>
<circle cx="481.2" cy="670.3" r="1.75" fill="#4DBBD5"/>
<circle cx="458.8" cy="679.0" r="1.75" fill="#4DBBD5"/>
<circle cx="460.9" cy="679.0" r="1.75" fill="#4DBBD5"/>
<circle cx="465.4" cy="683.3" r="1.75" fill="#4DBBD5"/>
<circle cx="453.6" cy="687.7" r="1.75" fill="#4DBBD5"/>
<circle cx="464.6" cy="696.3" r="1.75" fill="#4DBBD5"/>
<circle cx="466.2" cy="696.3" r="1.75" fill="#4DBBD5"/>
<circle cx="590.2" cy="549.0" r="1.75" fill="#E64B35"/>
<circle cx="617.5" cy="557.7" r="1.75" fill="#E64B35"/>
<circle cx="604.9" cy="570.7" r="1.75" fill="#E64B35"/>
<circle cx="617.8" cy="575.0" r="1.75" fill="#E64B35"/>
<circle cx="606.2" cy="579.3" r="1.75" fill="#E64B35"/>
<circle cx="596.1" cy="588.0" r="1.75" fill="#E64B35"/>
<circle cx="605.6" cy="605.3" r="1.75" fill="#E64B35"/>
<circle cx="596.8" cy="609.7" r="1.75" fill="#E64B35"/>
<circle cx="588.9" cy="614.0" r="1.75" fill="#E64B35"/>
<circle cx="592.2" cy="614.0" r="1.75" fill="#E64B35"/>
<circle cx="595.4" cy="614.0" r="1.75" fill="#E64B35"/>
<circle cx="602.3" cy="614.0" r="1.75" fill="#E64B35"/>
<circle cx="614.2" cy="614.0" r="1.75" fill="#E64B35"/>
<circle cx="615.5" cy="614.0" r="1.75" fill="#E64B35"/>
<circle cx="591.5" cy="618.3" r="1.75" fill="#E64B35"/>
<circle cx="593.1" cy="618.3" r="1.75" fill="#E64B35"/>
<circle cx="595.8" cy="618.3" r="1.75" fill="#E64B35"/>
<circle cx="599.7" cy="618.3" r="1.75" fill="#E64B35"/>
<circle cx="601.7" cy="618.3" r="1.75" fill="#E64B35"/>
<circle cx="604.3" cy="618.3" r="1.75" fill="#E64B35"/>
<circle cx="610.6" cy="618.3" r="1.75" fill="#E64B35"/>
<circle cx="588.2" cy="622.7" r="1.75" fill="#E64B35"/>
<circle cx="614.7" cy="622.7" r="1.75" fill="#E64B35"/>
<circle cx="607.3" cy="627.0" r="1.75" fill="#E64B35"/>
<circle cx="617.8" cy="627.0" r="1.75" fill="#E64B35"/>
<circle cx="605.8" cy="631.3" r="1.75" fill="#E64B35"/>
<circle cx="593.5" cy="635.7" r="1.75" fill="#E64B35"/>
<circle cx="595.0" cy="644.3" r="1.75" fill="#E64B35"/>
<circle cx="601.6" cy="644.3" r="1.75" fill="#E64B35"/>
<circle cx="594.5" cy="657.3" r="1.75" fill="#E64B35"/>
<circle cx="603.0" cy="657.3" r="1.75" fill="#E64B35"/>
<circle cx="610.7" cy="657.3" r="1.75" fill="#E64B35"/>
<circle cx="603.3" cy="661.7" r="1.75" fill="#E64B35"/>
<circle cx="607.6" cy="661.7" r="1.75" fill="#E64B35"/>
<circle cx="609.2" cy="661.7" r="1.75" fill="#E64B35"/>
<circle cx="592.5" cy="666.0" r="1.75" fill="#E64B35"/>
<circle cx="597.7" cy="666.0" r="1.75" fill="#E64B35"/>
<circle cx="599.7" cy="666.0" r="1.75" fill="#E64B35"/>
<circle cx="601.7" cy="666.0" r="1.75" fill="#E64B35"/>
<circle cx="603.7" cy="666.0" r="1.75" fill="#E64B35"/>
<circle cx="606.0" cy="666.0" r="1.75" fill="#E64B35"/>
<circle cx="608.9" cy="666.0" r="1.75" fill="#E64B35"/>
<circle cx="614.2" cy="666.0" r="1.75" fill="#E64B35"/>
<circle cx="618.8" cy="666.0" r="1.75" fill="#E64B35"/>
<circle cx="592.5" cy="670.3" r="1.75" fill="#E64B35"/>
<circle cx="595.1" cy="670.3" r="1.75" fill="#E64B35"/>
<circle cx="599.1" cy="670.3" r="1.75" fill="#E64B35"/>
<circle cx="601.0" cy="670.3" r="1.75" fill="#E64B35"/>
<circle cx="607.9" cy="670.3" r="1.75" fill="#E64B35"/>
<circle cx="616.5" cy="670.3" r="1.75" fill="#E64B35"/>
<circle cx="585.6" cy="674.7" r="1.75" fill="#E64B35"/>
<circle cx="611.2" cy="674.7" r="1.75" fill="#E64B35"/>
<circle cx="616.0" cy="679.0" r="1.75" fill="#E64B35"/>
<circle cx="587.9" cy="687.7" r="1.75" fill="#E64B35"/>
<circle cx="601.7" cy="687.7" r="1.75" fill="#E64B35"/>
<circle cx="603.3" cy="687.7" r="1.75" fill="#E64B35"/>
<circle cx="614.2" cy="687.7" r="1.75" fill="#E64B35"/>
<circle cx="586.2" cy="692.0" r="1.75" fill="#E64B35"/>
<circle cx="588.2" cy="692.0" r="1.75" fill="#E64B35"/>
<circle cx="593.1" cy="692.0" r="1.75" fill="#E64B35"/>
<circle cx="606.3" cy="692.0" r="1.75" fill="#E64B35"/>
<circle cx="591.8" cy="696.3" r="1.75" fill="#E64B35"/>
<circle cx="601.0" cy="696.3" r="1.75" fill="#E64B35"/>
<circle cx="605.6" cy="696.3" r="1.75" fill="#E64B35"/>
<circle cx="587.9" cy="700.7" r="1.75" fill="#E64B35"/>
<circle cx="592.2" cy="700.7" r="1.75" fill="#E64B35"/>
<circle cx="597.0" cy="700.7" r="1.75" fill="#E64B35"/>
<circle cx="606.6" cy="700.7" r="1.75" fill="#E64B35"/>
<circle cx="595.1" cy="705.0" r="1.75" fill="#E64B35"/>
<circle cx="604.8" cy="709.3" r="1.75" fill="#E64B35"/>
<circle cx="604.1" cy="713.7" r="1.75" fill="#E64B35"/>
<circle cx="611.1" cy="718.0" r="1.75" fill="#E64B35"/>
<circle cx="587.1" cy="722.3" r="1.75" fill="#E64B35"/>
<circle cx="614.2" cy="739.7" r="1.75" fill="#E64B35"/>
<path d="M465.50,531.90 V529.50 H602.50 V531.90" stroke="#1a1a1a" stroke-width="1.2" fill="none"/>
<text x="534.00" y="531.00" font-size="8.8" text-anchor="middle" class="st">***</text>
<text font-size="10" text-anchor="end" textLength="87.70" lengthAdjust="spacingAndGlyphs" transform="translate(469.00,760.50) rotate(-45)">Medical Practitioners</text>
<text font-size="10" text-anchor="end" textLength="107.20" lengthAdjust="spacingAndGlyphs" transform="translate(607.90,758.70) rotate(-45)">Non-medical Practitioners</text>
<text font-size="11.2" text-anchor="middle" textLength="76.70" lengthAdjust="spacingAndGlyphs" transform="translate(360.00,630.30) rotate(-90)">MQ-VET scores</text>
</svg></body></html>
